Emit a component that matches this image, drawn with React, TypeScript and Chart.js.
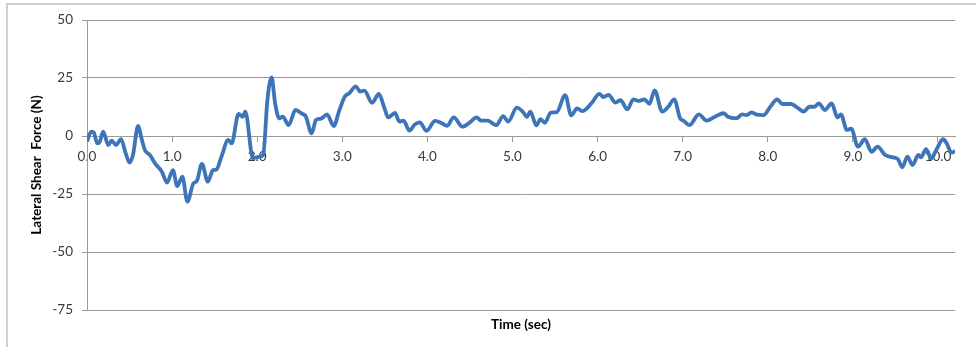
import React, { useEffect, useRef } from "react";
import { Chart, registerables } from "chart.js";

Chart.register(...registerables);

const timeSec = [
  0.0, 0.05, 0.08, 0.12, 0.15, 0.19, 0.25, 0.29, 0.34, 0.4, 0.45, 0.5, 0.54, 0.6, 0.64, 0.68, 0.74, 0.8, 0.88, 0.94,
  1.01, 1.06, 1.12, 1.18, 1.25, 1.29, 1.35, 1.42, 1.48, 1.52, 1.58, 1.66, 1.7, 1.78, 1.83, 1.86, 1.95, 2.02, 2.07,
  2.12, 2.17, 2.21, 2.26, 2.3, 2.37, 2.45, 2.53, 2.57, 2.64, 2.69, 2.75, 2.82, 2.9, 2.96, 3.03, 3.08, 3.16, 3.21,
  3.26, 3.35, 3.43, 3.49, 3.54, 3.62, 3.67, 3.72, 3.79, 3.85, 3.91, 3.99, 4.09, 4.17, 4.23, 4.31, 4.41, 4.5, 4.58,
  4.63, 4.71, 4.81, 4.89, 4.95, 5.05, 5.12, 5.17, 5.21, 5.28, 5.33, 5.38, 5.45, 5.52, 5.62, 5.69, 5.76, 5.82, 5.93,
  6.02, 6.07, 6.13, 6.21, 6.27, 6.35, 6.42, 6.48, 6.55, 6.61, 6.67, 6.76, 6.83, 6.9, 6.97, 7.01, 7.08, 7.19, 7.28,
  7.38, 7.48, 7.53, 7.63, 7.7, 7.75, 7.81, 7.86, 7.95, 8.03, 8.11, 8.17, 8.27, 8.36, 8.42, 8.49, 8.55, 8.6, 8.67,
  8.75, 8.82, 8.86, 8.93, 8.98, 9.06, 9.14, 9.22, 9.29, 9.38, 9.47, 9.53, 9.58, 9.64, 9.7, 9.77, 9.8, 9.86, 9.92,
  9.98, 10.06, 10.1, 10.16, 10.2,
];

const shearForce = [
  -2.4, 1.9, 1.5, -3.2, -2.5, 1.9, -3.9, -2.0, -3.9, -1.4, -6.8, -11.5, -8.2, 4.3, -1.0, -6.0, -8.2, -11.8, -15.4, -20.1,
  -14.7, -21.6, -17.5, -28.3, -20.4, -19.5, -12.0, -19.7, -14.7, -14.5, -8.9, -1.7, -3.2, 9.5, 8.3, 10.5, -9.6, -9.0, -8.2,
  15.5, 25.3, 14.2, 7.6, 8.3, 4.7, 11.2, 9.5, 8.5, 1.1, 6.9, 7.5, 9.3, 4.3, 10.5, 17.0, 18.4, 21.4, 19.1,
  19.6, 14.3, 18.1, 12.6, 8.0, 10.0, 6.2, 6.6, 2.3, 4.9, 5.9, 2.2, 6.5, 5.5, 4.4, 8.0, 4.0, 5.9, 8.0,
  6.6, 6.6, 4.7, 8.6, 6.2, 12.2, 10.5, 8.3, 10.5, 4.6, 7.3, 5.7, 10.1, 10.3, 17.6, 8.9, 11.9, 10.7, 14.2,
  18.2, 16.8, 17.7, 14.4, 15.4, 11.5, 15.8, 15.1, 15.8, 13.9, 19.7, 10.5, 12.6, 15.8, 7.6, 6.6, 4.7, 9.3, 6.6,
  8.3, 9.8, 8.3, 7.6, 9.3, 9.0, 10.2, 9.3, 9.0, 12.6, 15.8, 13.8, 13.8, 11.9, 10.5, 12.6, 12.6, 14.1, 11.2,
  14.1, 8.0, 9.3, 2.6, 3.2, -4.6, -1.4, -6.8, -4.6, -8.2, -9.2, -10.0, -13.5, -8.9, -12.5, -8.2, -9.2, -5.7, -9.6,
  -6.0, -1.4, -3.0, -7.2, -6.5,
];

const yTicks = [-75, -50, -25, 0, 25, 50];
const xTicks = [0, 1, 2, 3, 4, 5, 6, 7, 8, 9, 10];

const GRID = "#9a9a9a";
const TEXT = "#3a3a3a";
const FONT = "Lato, 'Liberation Sans', sans-serif";

export default function App() {
  const ref = useRef<HTMLCanvasElement | null>(null);

  useEffect(() => {
    if (!ref.current) return;
    const points = timeSec.map((t, i) => ({ x: t, y: shearForce[i] }));
    const chart = new Chart(ref.current, {
      type: "line",
      data: {
        datasets: [
          {
            data: points,
            borderColor: "#3E75B9",
            borderWidth: 3.8,
            pointRadius: 0,
            cubicInterpolationMode: "monotone",
            fill: false,
          },
        ],
      },
      options: {
        animation: false,
        responsive: true,
        maintainAspectRatio: false,
        layout: { padding: { left: 0, top: 20, right: 21, bottom: 0 } },
        plugins: { legend: { display: false }, tooltip: { enabled: false } },
        scales: {
          x: {
            type: "linear",
            position: "bottom",
            min: 0,
            max: 10.2,
            grid: { display: false },
            border: { display: false },
            ticks: { display: false },
            title: {
              display: true,
              text: "Time (sec)",
              color: "#000",
              font: { family: FONT, size: 13.5, weight: "bold" },
              padding: { top: 0, bottom: 14 },
            },
            afterFit: (s: any) => {
              s.height = 37;
            },
          },
          x2: {
            type: "linear",
            axis: "x",
            position: { y: 0 },
            min: 0,
            max: 10.2,
            afterBuildTicks: (s: any) => {
              s.ticks = xTicks.map((v) => ({ value: v }));
            },
            grid: { drawOnChartArea: false, drawTicks: true, tickLength: 5, color: GRID },
            border: { display: true, color: GRID, width: 1 },
            ticks: {
              padding: 8,
              color: TEXT,
              maxRotation: 0,
              autoSkip: false,
              font: { family: FONT, size: 13.5 },
              callback: (v: any) => Number(v).toFixed(1),
            },
          },
          y: {
            type: "linear",
            min: -75,
            max: 50,
            afterBuildTicks: (s: any) => {
              s.ticks = yTicks.map((v) => ({ value: v }));
            },
            grid: { color: GRID, tickLength: 5, lineWidth: 1 },
            border: { display: true, color: GRID },
            ticks: {
              padding: 9,
              color: TEXT,
              font: { family: FONT, size: 13.5 },
            },
            title: {
              display: true,
              text: "Lateral Shear  Force (N)",
              color: "#000",
              font: { family: FONT, size: 13.5, weight: "bold" },
              padding: { top: 29, bottom: 0 },
            },
            afterFit: (s: any) => {
              s.width = 87;
            },
          },
        },
      },
    });
    return () => chart.destroy();
  }, []);

  return (
    <div style={{ position: "fixed", left: 0, top: 0, width: 976, height: 347, background: "#fff" }}>
      <div
        style={{
          position: "absolute",
          left: 6,
          top: 3,
          width: 1000,
          height: 400,
          borderLeft: "2px solid #cfcfcf",
          borderTop: "2px solid #cfcfcf",
          boxSizing: "border-box",
        }}
      />
      <canvas ref={ref} style={{ position: "absolute", left: 0, top: 0 }} />
    </div>
  );
}
